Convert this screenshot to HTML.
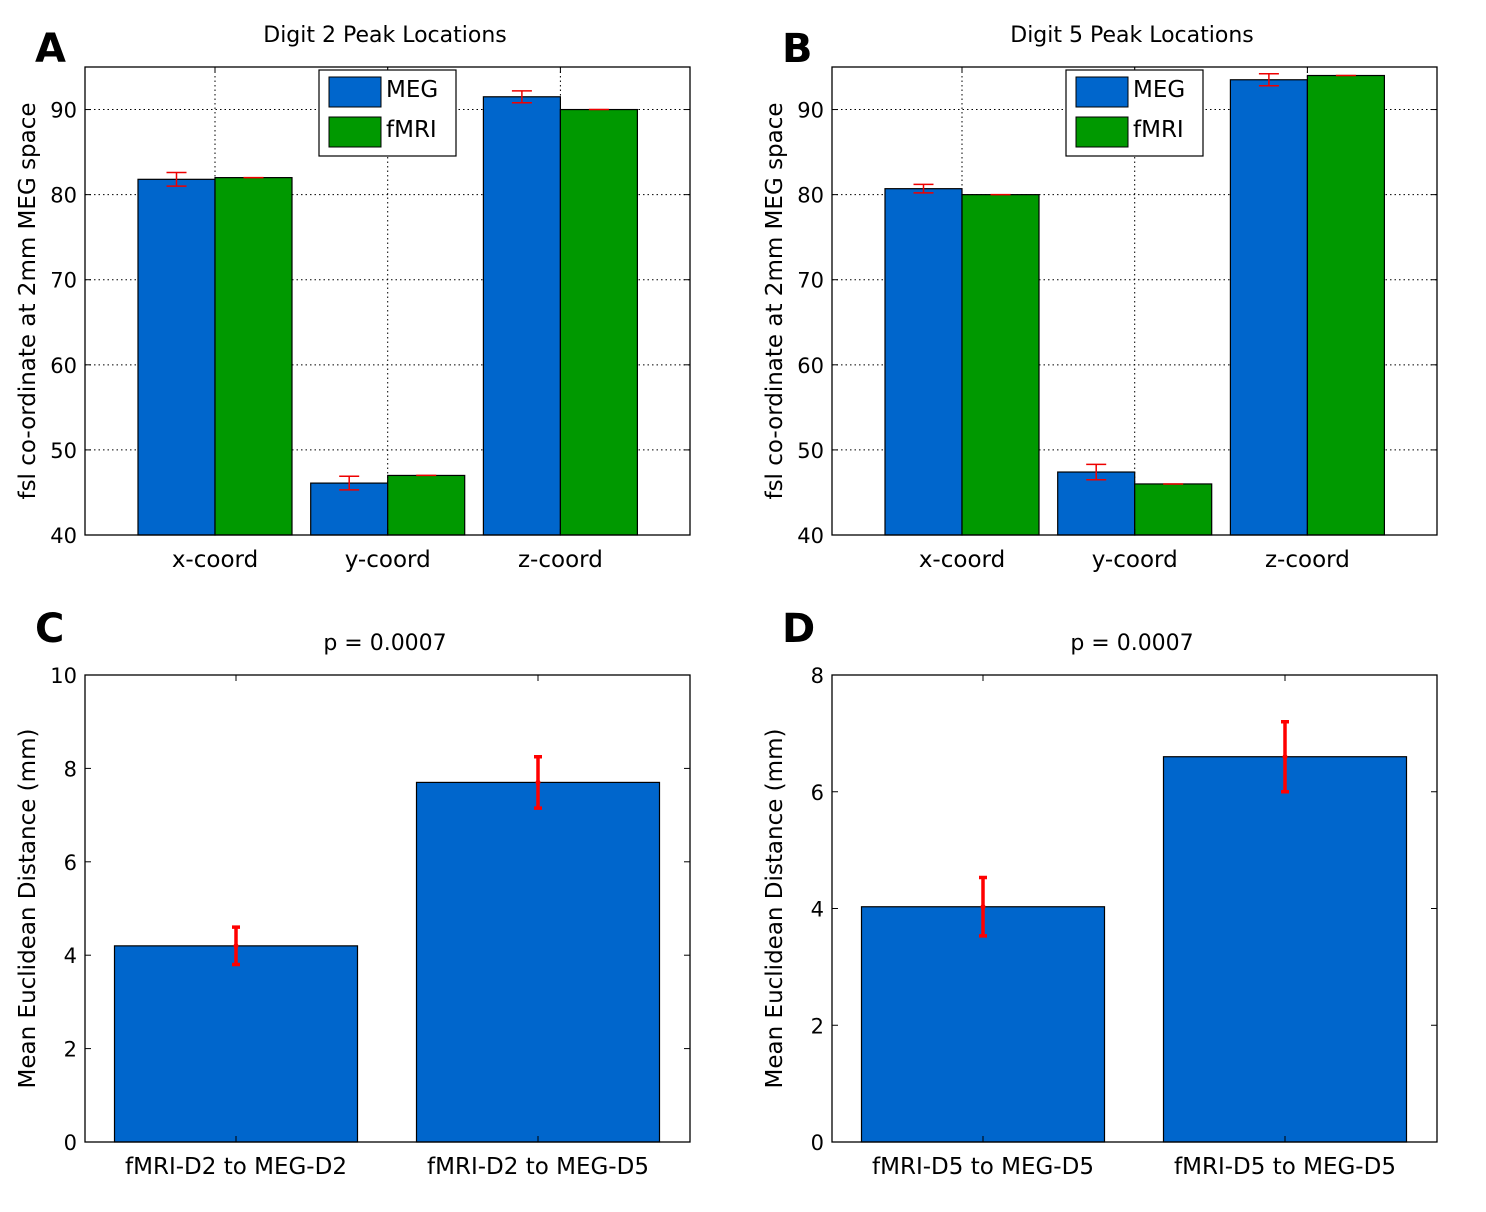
<!DOCTYPE html>
<html><head><meta charset="utf-8"><style>
html,body{margin:0;padding:0;background:#fff}
svg{display:block;font-family:"DejaVu Sans","Liberation Sans",sans-serif}
</style></head><body>
<svg id="c" width="1486" height="1212" viewBox="0 0 1486 1212"></svg>
<script>
const groupCats=["x-coord","y-coord","z-coord"];
const aMeg=[81.8,46.1,91.5], aFmri=[82.0,47.0,90.0], aErr=[0.8,0.8,0.7];
const bMeg=[80.7,47.4,93.5], bFmri=[80.0,46.0,94.0], bErr=[0.5,0.9,0.7];
const cCats=["fMRI-D2 to MEG-D2","fMRI-D2 to MEG-D5"], cVals=[4.2,7.7], cErr=[0.4,0.55];
const dCats=["fMRI-D5 to MEG-D5","fMRI-D5 to MEG-D5"], dVals=[4.03,6.6], dErr=[0.5,0.6];
const abTicks=[40,50,60,70,80,90], cTicks=[0,2,4,6,8,10], dTicks=[0,2,4,6,8];

const NS="http://www.w3.org/2000/svg", svg=document.getElementById('c');
function mk(tag,at,parent,txt){const e=document.createElementNS(NS,tag);for(const k in at)e.setAttribute(k,at[k]);if(txt!==undefined)e.textContent=txt;(parent||svg).appendChild(e);return e;}

function panel(o){
  const g=mk('g',{});
  
  
  const x0=o.x,x1=o.x+605,yT=o.yT,yB=o.yB;
  const Y=v=>yB-(v-o.min)/(o.max-o.min)*(yB-yT);
  mk('rect',{x:x0,y:yT,width:605,height:yB-yT,fill:'#fff'},g);
  const X=i=>x0+ (o.grouped? 130+i*172.7 : 151+i*302);
  if(o.grouped){
    o.ticks.forEach(t=>{if(t>o.min){const l=mk('line',{x1:x0,x2:x1,y1:Y(t),y2:Y(t),stroke:'#000','stroke-width':1,'stroke-dasharray':'1.5 3'},g);}});
    o.cats.forEach((c,i)=>{mk('line',{x1:X(i),x2:X(i),y1:yT,y2:yB,stroke:'#000','stroke-width':1,'stroke-dasharray':'1.5 3'},g);});
  }
  o.cats.forEach((c,i)=>{
    const cx=X(i);
    if(o.grouped){
      [[o.s1,'#0066cc',-77],[o.s2,'#009900',0]].forEach(([arr,col,dx],k)=>{
        const r=mk('rect',{x:cx+dx,y:Y(arr[i]),width:77,height:yB-Y(arr[i]),fill:col,stroke:'#000','stroke-width':1.2},g);
        
        
      });
      const ex=cx-38.5,v=o.s1[i],e=o.err[i];
      mk('path',{d:`M${ex},${Y(v-e)}V${Y(v+e)}M${ex-10},${Y(v-e)}h20M${ex-10},${Y(v+e)}h20`,stroke:'#e00','stroke-width':1.5,fill:'none'},g);
      const ex2=cx+38.5,v2=o.s2[i];
      mk('path',{d:`M${ex2-10},${Y(v2)}h20`,stroke:'#e00','stroke-width':1.5},g);
    } else {
      const v=o.s1[i],e=o.err[i];
      const r=mk('rect',{x:cx-121.5,y:Y(v),width:243,height:yB-Y(v),fill:'#0066cc',stroke:'#000','stroke-width':1.2},g);
      
      
      mk('path',{d:`M${cx},${Y(v-e)}V${Y(v+e)}M${cx-4},${Y(v-e)}h8M${cx-4},${Y(v+e)}h8`,stroke:'#f00','stroke-width':3.5,fill:'none'},g);
      mk('circle',{cx:cx,cy:Y(v),r:2.5,fill:'#f00'},g);
    }
    const t=mk('text',{x:cx,y:yB+32,'font-size':23,'text-anchor':'middle'},g,c);
    
    
    mk('line',{x1:cx,x2:cx,y1:yB,y2:yB-6,stroke:'#000'},g);
    mk('line',{x1:cx,x2:cx,y1:yT,y2:yT+6,stroke:'#000'},g);
  });
  o.ticks.forEach(t=>{
    const l=mk('text',{x:x0-8,y:Y(t)+8,'font-size':21,'text-anchor':'end'},g,String(t));
    
    
    mk('line',{x1:x0,x2:x0+6,y1:Y(t),y2:Y(t),stroke:'#000'},g);
    mk('line',{x1:x1,x2:x1-6,y1:Y(t),y2:Y(t),stroke:'#000'},g);
  });
  mk('rect',{x:x0,y:yT,width:605,height:yB-yT,fill:'none',stroke:'#000','stroke-width':1.3},g);
  const ti=mk('text',{x:x0+300,y:yT-25,'font-size':22,'text-anchor':'middle'},g,o.title);
  
  
  const yl=mk('text',{x:0,y:0,'font-size':23,'text-anchor':'middle',transform:`translate(${x0-50},${(yT+yB)/2}) rotate(-90)`},g,o.ylabel);
  
  
  const pl=mk('text',{x:o.x-50,y:o.ly,'font-size':40,'font-weight':'bold'},g,o.letter);
  
  
  if(o.grouped){
    const lg=mk('g',{},g);
    
    
    const lx=x0+234;
    mk('rect',{x:lx,y:70,width:137,height:86,fill:'#fff',stroke:'#000','stroke-width':1.2},lg);
    mk('rect',{x:lx+10,y:77,width:52,height:30,fill:'#0066cc',stroke:'#000'},lg);
    mk('rect',{x:lx+10,y:117,width:52,height:30,fill:'#009900',stroke:'#000'},lg);
    mk('text',{x:lx+67,y:97,'font-size':23},lg,'MEG');
    mk('text',{x:lx+67,y:137,'font-size':23},lg,'fMRI');
  }
}
const yl1="fsl co-ordinate at 2mm MEG space", yl2="Mean Euclidean Distance (mm)";
panel({name:'panel-a',letter:'A',ly:62,x:85,yT:67,yB:535,min:40,max:95,grouped:true,cats:groupCats,s1:aMeg,s2:aFmri,err:aErr,ticks:abTicks,title:'Digit 2 Peak Locations',ylabel:yl1});
panel({name:'panel-b',letter:'B',ly:62,x:832,yT:67,yB:535,min:40,max:95,grouped:true,cats:groupCats,s1:bMeg,s2:bFmri,err:bErr,ticks:abTicks,title:'Digit 5 Peak Locations',ylabel:yl1});
panel({name:'panel-c',letter:'C',ly:642,x:85,yT:675,yB:1142,min:0,max:10,grouped:false,cats:cCats,s1:cVals,err:cErr,ticks:cTicks,title:'p = 0.0007',ylabel:yl2});
panel({name:'panel-d',letter:'D',ly:642,x:832,yT:675,yB:1142,min:0,max:8,grouped:false,cats:dCats,s1:dVals,err:dErr,ticks:dTicks,title:'p = 0.0007',ylabel:yl2});
</script>
</body></html>
